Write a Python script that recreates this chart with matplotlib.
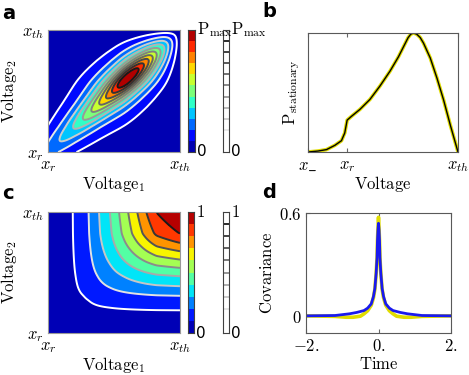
import numpy as np
import matplotlib
matplotlib.use("Agg")
import matplotlib.pyplot as plt
from matplotlib.colors import ListedColormap

plt.rcParams['mathtext.fontset'] = 'cm'
plt.rcParams['font.family'] = 'DejaVu Sans'

# --- panel b: stationary density (voltage x_- .. x_th as 0..1)
b_volt = [0.0, 0.067, 0.123, 0.179, 0.223, 0.245, 0.261, 0.29, 0.346, 0.413, 0.48,
          0.547, 0.603, 0.625, 0.647, 0.667, 0.685, 0.703, 0.725, 0.748, 0.77,
          0.815, 0.86, 0.904, 0.949, 1.0]
b_dens = [0.0, 0.008, 0.02, 0.056, 0.095, 0.16, 0.268, 0.30, 0.358, 0.442, 0.555,
          0.68, 0.80, 0.855, 0.91, 0.96, 0.99, 1.0, 0.99, 0.962, 0.915,
          0.79, 0.62, 0.437, 0.225, 0.0]
b_xr = 0.26
b_ticks = [r'$x\_$', r'$x_r$', r'$x_{th}$']

# --- panel a: joint density = marginals (panel b) times a ridge along the diagonal
a_alpha = 0.6     # weight of the marginals
a_width = 0.15    # half-width of the (Cauchy-like) ridge, fraction of x_r..x_th
a_nbands = 11

# --- panel c: edge crossings of the contour levels (right/top edge), level values
c_edge_pos = [0.0, 0.06, 0.188, 0.309, 0.387, 0.47, 0.539, 0.608, 0.677, 0.746, 0.823, 1.0]
c_edge_val = [0.0, 0.0, 0.1, 0.2, 0.3, 0.4, 0.5, 0.6, 0.7, 0.8, 0.9, 1.0]
c_nbands = 10

# --- panel d: covariance vs time lag
d_time_sim = [-2.0, -1.2, -0.8, -0.6, -0.4, -0.3, -0.2, -0.14, -0.1, -0.064, -0.04, -0.028,
              -0.015, 0.0, 0.015, 0.028, 0.04, 0.064, 0.1, 0.14, 0.2, 0.3, 0.4, 0.6, 0.8, 1.2, 2.0]
d_cov_sim = [0.0, 0.002, 0.012, 0.02, 0.031, 0.045, 0.07, 0.112, 0.16, 0.25, 0.34, 0.44,
             0.5, 0.54, 0.5, 0.44, 0.34, 0.25, 0.16, 0.112, 0.07, 0.045, 0.031, 0.02, 0.012, 0.002, 0.0]
d_time_th = [-2.0, -1.2, -0.9, -0.7, -0.5, -0.4, -0.3, -0.2, -0.14, -0.1, -0.064, -0.04, -0.028,
             -0.015, 0.0, 0.015, 0.028, 0.04, 0.064, 0.1, 0.14, 0.2, 0.3, 0.4, 0.5, 0.7, 0.9, 1.2, 2.0]
d_cov_th = [0.0, -0.003, -0.008, -0.008, -0.002, 0.012, 0.03, 0.062, 0.105, 0.155, 0.25, 0.34,
            0.44, 0.51, 0.575, 0.51, 0.44, 0.34, 0.25, 0.155, 0.105, 0.062, 0.03, 0.012, -0.002,
            -0.008, -0.008, -0.003, 0.0]

W, H = 469, 375
fig = plt.figure(figsize=(W / 100, H / 100), dpi=100)


def box(x0, y0, x1, y1):
    # pixel box (top-left origin) -> figure rect
    return [x0 / W, 1 - y1 / H, (x1 - x0) / W, (y1 - y0) / H]


def field_panel(rect, cb1, cb2, z, nb, toplab):
    ax = fig.add_axes(rect)
    s = np.linspace(0, 1, z.shape[0])
    lev = np.linspace(0, 1, nb + 1)
    cols = plt.cm.jet((np.arange(nb) + 0.5) / nb)
    greys = [str(g) for g in np.linspace(1.0, 0.1, nb - 1)]
    ax.contourf(s, s, z, levels=lev, colors=cols)
    ax.contour(s, s, z, levels=lev[1:-1], colors=greys, linewidths=1.4)
    ax.set_xlim(0, 1); ax.set_ylim(0, 1)
    ax.set_xticks([0, 1], [r'$x_r$', r'$x_{th}$'])
    ax.set_yticks([0, 1], [r'$x_r$', r'$x_{th}$'])
    ax.tick_params(length=0, labelsize=12, pad=3)
    for sp in ax.spines.values():
        sp.set_color('0.6')
    ax.set_xlabel(r'$\mathrm{Voltage}_1$', fontsize=12, labelpad=0)
    ax.set_ylabel(r'$\mathrm{Voltage}_2$', fontsize=12, labelpad=2)

    c1 = fig.add_axes(cb1)
    c1.imshow(np.arange(nb)[:, None], cmap=ListedColormap(cols), origin='lower',
              aspect='auto', extent=[0, 1, 0, 1])
    c2 = fig.add_axes(cb2)
    c2.set_xlim(0, 1); c2.set_ylim(0, 1)
    c2.hlines(lev[1:-1], 0, 1, colors=greys, linewidth=1.3)
    for c, r in ((c1, cb1), (c2, cb2)):
        c.set_xticks([]); c.set_yticks([])
        for sp in c.spines.values():
            sp.set_color('0.25'); sp.set_linewidth(0.8)
        xr = r[0] + r[2] + 2 / W
        fig.text(xr, r[1] + r[3], toplab, fontsize=12, va='center', ha='left', zorder=10)
        fig.text(xr, r[1], '0', fontsize=11, va='center', ha='left', zorder=10)
    return ax


# panel a field
sa = np.linspace(0, 1, 301)
pa = np.interp(b_xr + sa * (1 - b_xr), b_volt, b_dens)
XA, YA = np.meshgrid(sa, sa)
ZA = (pa[None, :] * pa[:, None]) ** a_alpha / (1.0 + ((XA - YA) / a_width) ** 2)
ZA = ZA / ZA.max()
field_panel(box(48, 30, 180, 152), box(188, 30, 194.5, 152), box(222.5, 30, 229, 152),
            ZA, a_nbands, r'$\mathrm{P}_{\mathrm{max}}$')

# panel c field: edge profile, lightly smoothed so the corners stay round
sc = np.linspace(0, 1, 301)
gc = np.interp(sc, c_edge_pos, c_edge_val)
k = 7
gc = np.convolve(np.pad(gc, k // 2, mode='edge'), np.ones(k) / k, mode='valid')
gc = np.clip(gc / gc.max(), 1e-4, 1)
ZC = 1.0 / (1.0 / gc[None, :] + 1.0 / gc[:, None] - 1.0)
field_panel(box(48, 212, 180, 333), box(187.5, 212, 194, 333), box(222.5, 212, 229, 333),
            ZC, c_nbands, r'$1$')

# panel b
axb = fig.add_axes(box(308, 33, 458, 152))
axb.plot(b_volt, b_dens, color='#e0dc00', lw=2.6, solid_capstyle='butt')
axb.plot(b_volt, b_dens, color='black', lw=1.0)
axb.set_xlim(0, 1); axb.set_ylim(0, 1.0)
axb.set_yticks([])
axb.set_xticks([0, b_xr, 1], b_ticks)
axb.tick_params(axis='x', direction='in', top=True, length=3, color='0.4', labelsize=12, pad=3)
axb.set_xlabel(r'$\mathrm{Voltage}$', fontsize=12, labelpad=0)
axb.set_ylabel(r'$\mathrm{P}_{\mathrm{stationary}}$', fontsize=12, labelpad=4)
for sp in axb.spines.values():
    sp.set_color('0.35')

# panel d
axd = fig.add_axes(box(306, 213, 451, 333))
axd.plot(d_time_th, d_cov_th, color='#e0dc00', lw=2.6)
axd.plot(d_time_sim, d_cov_sim, color='#1a1aee', lw=2.0)
axd.set_xlim(-2, 2); axd.set_ylim(-0.1, 0.6)
axd.set_xticks([-2, 0, 2], [r'$-2.$', r'$0.$', r'$2.$'])
axd.set_yticks([0, 0.6], [r'$0$', r'$0.6$'])
axd.tick_params(direction='in', top=True, length=3, color='0.4', labelsize=12, pad=3)
axd.set_xlabel(r'$\mathrm{Time}$', fontsize=12, labelpad=0)
axd.set_ylabel(r'$\mathrm{Covariance}$', fontsize=12, labelpad=2)
for sp in axd.spines.values():
    sp.set_color('0.35')

for lab, x, y in [('a', 2, 4), ('b', 262, 2), ('c', 2, 184), ('d', 262, 183)]:
    fig.text(x / W, 1 - y / H, lab, fontsize=14, fontweight='bold', va='top', ha='left')

fig.savefig('out.png', dpi=100)
